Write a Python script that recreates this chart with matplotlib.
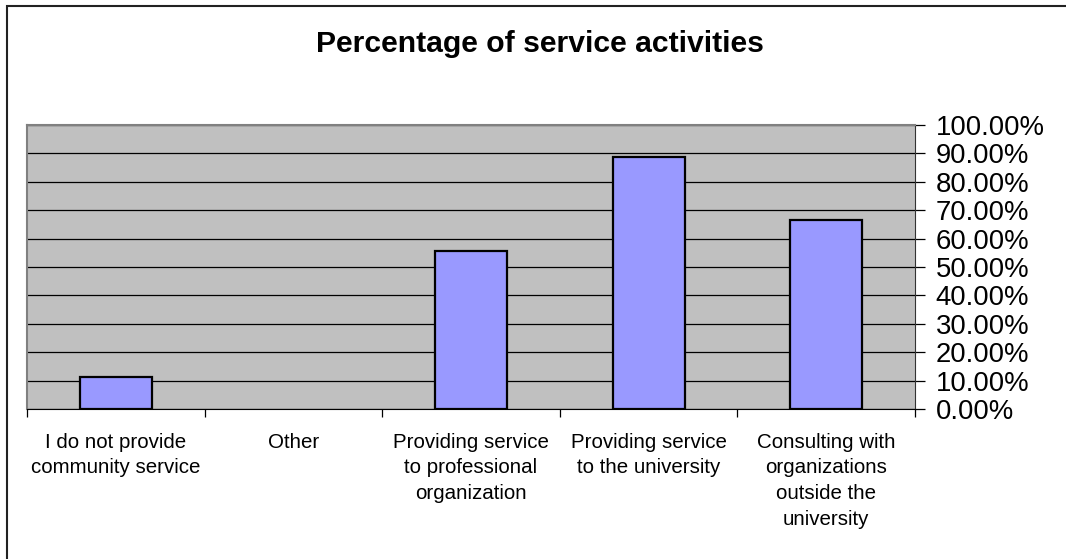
import numpy as np
import matplotlib
matplotlib.use("Agg")
import matplotlib.pyplot as plt
from matplotlib.patches import Rectangle
from matplotlib.ticker import FuncFormatter

plt.rcParams['font.family'] = ['Liberation Sans', 'DejaVu Sans']

# data
categories = [
    "I do not provide\ncommunity service",
    "Other",
    "Providing service\nto professional\norganization",
    "Providing service\nto the university",
    "Consulting with\norganizations\noutside the\nuniversity",
]
values = [0.1111, 0.0, 0.5556, 0.8889, 0.6667]
title = "Percentage of service activities"

fig = plt.figure(figsize=(10.66, 5.59), dpi=100)
ax = fig.add_axes([27 / 1066, 150 / 559, 888 / 1066, 284 / 559])

# outer chart border (runs off the right/bottom edge like the reference)
fig.patches.append(Rectangle((7 / 1066, -0.05), 1.1, 1 - 6 / 559 + 0.05,
                             transform=fig.transFigure, fill=False,
                             edgecolor='#222222', lw=1.5, zorder=0))

x = np.arange(len(categories))
ax.set_facecolor('#C0C0C0')
ax.yaxis.grid(True, color='black', lw=0.9)
ax.set_axisbelow(True)
bars = ax.bar(x, values, width=0.405, color='#9999FF', edgecolor='black', lw=1.6, zorder=3)
for b, v in zip(bars, values):
    if v == 0:
        b.set_visible(False)  # Excel draws nothing for an empty bar

ax.set_xlim(-0.5, len(categories) - 0.5)
ax.set_ylim(0, 1)
ax.set_yticks(np.arange(0, 1.01, 0.1))
ax.yaxis.set_major_formatter(FuncFormatter(lambda v, p: f"{v * 100:.2f}%"))
ax.yaxis.tick_right()
ax.tick_params(axis='y', direction='out', length=7, width=0.9, pad=8, labelsize=19.8)

# tick marks at category boundaries, labels at centres
ax.set_xticks(np.arange(-0.5, len(categories)), labels=[])
ax.set_xticks(x, minor=True)
ax.set_xticklabels(categories, minor=True, fontsize=14.8, linespacing=1.45)
ax.tick_params(axis='x', which='major', direction='out', length=6, width=0.9)
ax.tick_params(axis='x', which='minor', length=0, pad=17)

for side in ['top', 'left']:
    ax.spines[side].set_color('#808080')
    ax.spines[side].set_linewidth(1.5)
ax.spines['right'].set_color('#333333')
ax.spines['bottom'].set_color('black')

fig.text(539.5 / 1066, 1 - 44 / 559, title, ha='center', va='center',
         fontsize=21.7, fontweight='bold')

fig.savefig("out.png", dpi=100)
